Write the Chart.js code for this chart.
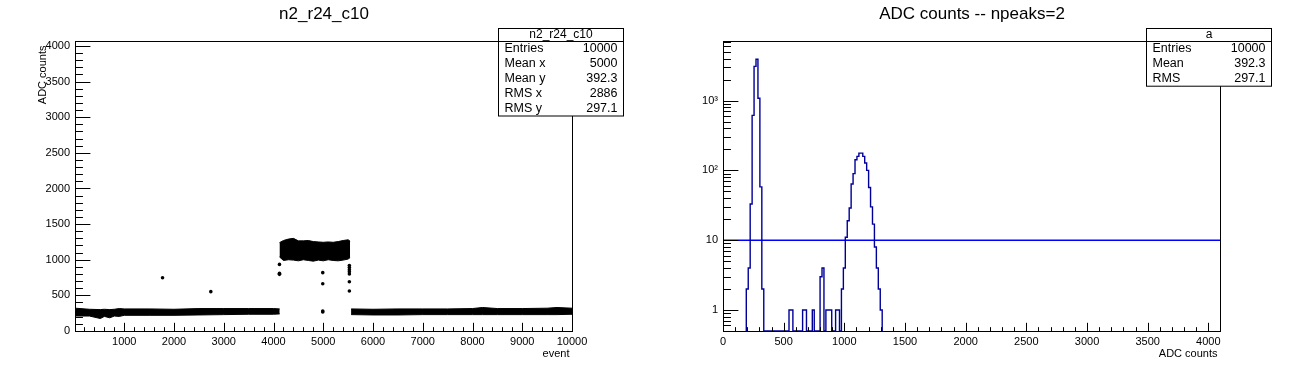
<!DOCTYPE html>
<html>
<head>
<meta charset="utf-8">
<script src="https://cdn.jsdelivr.net/npm/chart.js@4.4.1/dist/chart.umd.min.js"></script>
<style>
  body { margin: 0; background: #fff; }
  #wrap { display: flex; width: 1296px; height: 372px; }
  canvas { display: block; }
</style>
</head>
<body>
<div id="wrap">
  <canvas id="chart-event" width="648" height="372"></canvas>
  <canvas id="chart-adc" width="648" height="372"></canvas>
</div>
<script>
// ---- left pad: ADC counts vs event number ----
const eventTicks = [1000, 2000, 3000, 4000, 5000, 6000, 7000, 8000, 9000, 10000];
const adcTicks = [0, 500, 1000, 1500, 2000, 2500, 3000, 3500, 4000];

// the dense bands of points, read as upper / lower edges
const lowBandEvents = [15, 300, 520, 600, 710, 800, 900, 1000, 1500, 2000, 2500, 3000, 3500, 4000, 4125];
const lowBandTop    = [320, 305, 300, 305, 300, 305, 315, 310, 310, 305, 315, 315, 315, 315, 310];
const lowBandBottom = [210, 210, 175, 205, 185, 210, 205, 220, 220, 220, 225, 230, 235, 235, 240];

const midBandEvents = [4120, 4200, 4300, 4400, 4500, 4600, 4700, 4800, 4900, 5000, 5100, 5200, 5300, 5400, 5500, 5540];
const midBandTop    = [1240, 1270, 1290, 1300, 1265, 1265, 1270, 1255, 1250, 1245, 1250, 1245, 1255, 1270, 1280, 1260];
const midBandBottom = [1040, 990, 1000, 995, 985, 1000, 990, 980, 995, 985, 1000, 990, 985, 995, 1010, 1030];

const highBandEvents = [5560, 6000, 6500, 7000, 7500, 8000, 8200, 8500, 9000, 9500, 9700, 10000];
const highBandTop    = [310, 305, 310, 310, 310, 315, 330, 315, 315, 320, 330, 320];
const highBandBottom = [230, 225, 225, 230, 230, 230, 230, 230, 230, 230, 230, 235];

// isolated points
const outlierEvents = [1770, 2740, 4120, 4120, 4120, 4990, 4990, 4990, 4990, 5525, 5525, 5525, 5525, 5525, 5525, 5525];
const outlierAdc    = [748, 552, 935, 809, 795, 819, 664, 281, 267, 561, 692, 800, 830, 860, 890, 920];

const eventStats = [['Entries', '10000'], ['Mean x', '5000'], ['Mean y', '392.3'], ['RMS x', '2886'], ['RMS y', '297.1']];

// ---- right pad: ADC histogram ----
const adcAxisTicks = [0, 500, 1000, 1500, 2000, 2500, 3000, 3500, 4000];
const logTicks = [1, 10, 100, 1000];
const logTickLabels = ['1', '10', '10\u00b2', '10\u00b3'];

const adcBinLow = 192;
const adcBinWidth = 16;
const adcBinCounts = [
  2, 4, 33, 615, 3100, 3910, 1080, 58, 2,
  0, 0, 0, 0, 0, 0, 0, 0, 0, 0, 0, 0, 0,
  1, 1, 0, 0, 0, 0, 0, 1, 1, 0, 0, 0, 1, 0, 0, 0,
  3, 4, 0, 1, 1, 1, 0, 0, 1, 1, 0,
  2, 4, 11, 19, 29, 64, 90, 142, 159, 177, 177, 159, 128, 100, 57, 30, 17, 8, 4, 2, 1
];
const peakThreshold = 10;
const histStats = [['Entries', '10000'], ['Mean', '392.3'], ['RMS', '297.1']];

const FONT = '"Liberation Sans", Arial, Helvetica, sans-serif';
Chart.defaults.font.family = FONT;
Chart.defaults.color = '#000';
Chart.defaults.animation = false;

function linMinor(scale, step) {
  const out = [];
  for (let v = Math.ceil(scale.min / step) * step; v <= scale.max; v += step) out.push(v);
  return out;
}
function logMinor(scale) {
  const out = [];
  for (let e = -1; e <= 4; e++) {
    for (let m = 2; m <= 9; m++) {
      const v = m * Math.pow(10, e);
      if (v >= scale.min && v <= scale.max) out.push(v);
    }
  }
  return out;
}

// ROOT-like frame, inner ticks, title, axis titles and stats box
const rootPad = {
  id: 'rootPad',
  afterDraw(chart, args, o) {
    const ctx = chart.ctx, a = chart.chartArea;
    const xs = chart.scales.x, ys = chart.scales.y;
    const L = Math.round(a.left) + 0.5, R = Math.round(a.right) + 0.5;
    const T = Math.round(a.top) + 0.5, B = Math.round(a.bottom) + 0.5;
    ctx.save();
    ctx.strokeStyle = '#000';
    ctx.lineWidth = 1;

    const xLen = (a.bottom - a.top) * 0.03, yLen = (a.right - a.left) * 0.03;
    ctx.beginPath();
    xs.ticks.forEach(t => {
      const p = Math.round(xs.getPixelForValue(t.value)) + 0.5;
      ctx.moveTo(p, B); ctx.lineTo(p, B - xLen);
    });
    linMinor(xs, o.xMinorStep).forEach(v => {
      const p = Math.round(xs.getPixelForValue(v)) + 0.5;
      ctx.moveTo(p, B); ctx.lineTo(p, B - xLen / 2);
    });
    ys.ticks.forEach(t => {
      const p = Math.round(ys.getPixelForValue(t.value)) + 0.5;
      ctx.moveTo(L, p); ctx.lineTo(L + yLen, p);
    });
    const yMinor = o.logY ? logMinor(ys) : linMinor(ys, o.yMinorStep);
    yMinor.forEach(v => {
      const p = Math.round(ys.getPixelForValue(v)) + 0.5;
      ctx.moveTo(L, p); ctx.lineTo(L + yLen / 2, p);
    });
    ctx.stroke();
    ctx.strokeRect(L, T, R - L, B - T);

    ctx.fillStyle = '#000';
    ctx.textBaseline = 'middle';
    ctx.font = '17px ' + FONT;
    ctx.textAlign = 'center';
    ctx.fillText(o.title, chart.width / 2, 14);

    ctx.font = '11px ' + FONT;
    ctx.textAlign = 'right';
    ctx.fillText(o.xTitle, R - 3, B + 22);
    if (o.yTitle) {
      ctx.save();
      ctx.translate(L - 33, T + 4);
      ctx.rotate(-Math.PI / 2);
      ctx.fillText(o.yTitle, 0, 0);
      ctx.restore();
    }

    const rowH = 14.9;
    const bx0 = R - 74, bx1 = R + 51, by0 = T - 13;
    const by1 = T + rowH * o.stats.length;
    ctx.fillStyle = '#fff';
    ctx.fillRect(bx0, by0, bx1 - bx0, by1 - by0);
    ctx.strokeRect(bx0, by0, bx1 - bx0, by1 - by0);
    ctx.beginPath();
    ctx.moveTo(bx0, T); ctx.lineTo(bx1, T);
    ctx.stroke();
    ctx.fillStyle = '#000';
    ctx.font = '12px ' + FONT;
    ctx.textAlign = 'center';
    ctx.textBaseline = 'alphabetic';
    ctx.fillText(o.statsTitle, (bx0 + bx1) / 2, T - 3.5);
    ctx.font = '12.5px ' + FONT;
    ctx.textBaseline = 'middle';
    o.stats.forEach((r, i) => {
      const y = T + rowH * (i + 0.5);
      ctx.textAlign = 'left';
      ctx.fillText(r[0], bx0 + 6, y);
      ctx.textAlign = 'right';
      ctx.fillText(r[1], bx1 - 6, y);
    });
    ctx.restore();
  }
};

function bandSets(ev, lo, hi) {
  return [
    { data: ev.map((e, i) => ({ x: e, y: lo[i] })), borderColor: '#000', borderWidth: 1, pointRadius: 0, fill: false },
    { data: ev.map((e, i) => ({ x: e, y: hi[i] })), borderColor: '#000', borderWidth: 1, pointRadius: 0,
      backgroundColor: '#000', fill: '-1' }
  ];
}

function tickAxis(ticks, extra) {
  return Object.assign({
    type: 'linear',
    afterBuildTicks: s => { s.ticks = ticks.map(v => ({ value: v })); },
    ticks: { font: { size: 11 }, color: '#000', autoSkip: false, maxRotation: 0, padding: 4,
             callback: v => String(v) },
    grid: { display: false, drawTicks: false },
    border: { display: false }
  }, extra);
}

new Chart(document.getElementById('chart-event'), {
  type: 'line',
  data: {
    datasets: [
      ...bandSets(lowBandEvents, lowBandBottom, lowBandTop),
      ...bandSets(midBandEvents, midBandBottom, midBandTop),
      ...bandSets(highBandEvents, highBandBottom, highBandTop),
      { data: outlierEvents.map((e, i) => ({ x: e, y: outlierAdc[i] })), showLine: false,
        pointRadius: 1.8, pointBackgroundColor: '#000', pointBorderWidth: 0 }
    ]
  },
  options: {
    responsive: false,
    layout: { padding: { top: 41, right: 76, left: 0, bottom: 0 } },
    plugins: {
      legend: { display: false }, tooltip: { enabled: false },
      rootPad: { title: 'n2_r24_c10', xTitle: 'event', yTitle: 'ADC counts', xMinorStep: 200, yMinorStep: 100,
                 statsTitle: 'n2_r24_c10', stats: eventStats }
    },
    scales: {
      x: tickAxis(eventTicks, { min: 10, max: 10000, afterFit: s => { s.height = 41; } }),
      y: tickAxis(adcTicks, { min: 0, max: 4070, afterFit: s => { s.width = 75; },
        ticks: { font: { size: 11 }, color: '#000', autoSkip: false, padding: 5, callback: v => String(v) } })
    }
  },
  plugins: [rootPad]
});

const logFloor = 0.5;
const histPoints = [{ x: adcBinLow, y: logFloor }];
adcBinCounts.forEach((c, i) => histPoints.push({ x: adcBinLow + i * adcBinWidth, y: Math.max(c, logFloor) }));
histPoints.push({ x: adcBinLow + adcBinCounts.length * adcBinWidth, y: logFloor });

new Chart(document.getElementById('chart-adc'), {
  type: 'line',
  data: {
    datasets: [
      { data: histPoints, stepped: 'before', borderColor: '#000099', borderWidth: 1.4, pointRadius: 0, fill: false },
      { data: [{ x: 0, y: peakThreshold }, { x: 4096, y: peakThreshold }], borderColor: '#0000ff',
        borderWidth: 1.4, pointRadius: 0, fill: false }
    ]
  },
  options: {
    responsive: false,
    layout: { padding: { top: 41, right: 76, left: 0, bottom: 0 } },
    plugins: {
      legend: { display: false }, tooltip: { enabled: false },
      rootPad: { title: 'ADC counts -- npeaks=2', xTitle: 'ADC counts', xMinorStep: 100, logY: true,
                 statsTitle: 'a', stats: histStats }
    },
    scales: {
      x: tickAxis(adcAxisTicks, { min: 0, max: 4096, afterFit: s => { s.height = 41; } }),
      y: tickAxis(logTicks, { type: 'logarithmic', min: logFloor, max: 7150, afterFit: s => { s.width = 75; },
        ticks: { font: { size: 11 }, color: '#000', autoSkip: false, padding: 5,
                 callback: (v, i) => logTickLabels[i] } })
    }
  },
  plugins: [rootPad]
});
</script>
</body>
</html>
